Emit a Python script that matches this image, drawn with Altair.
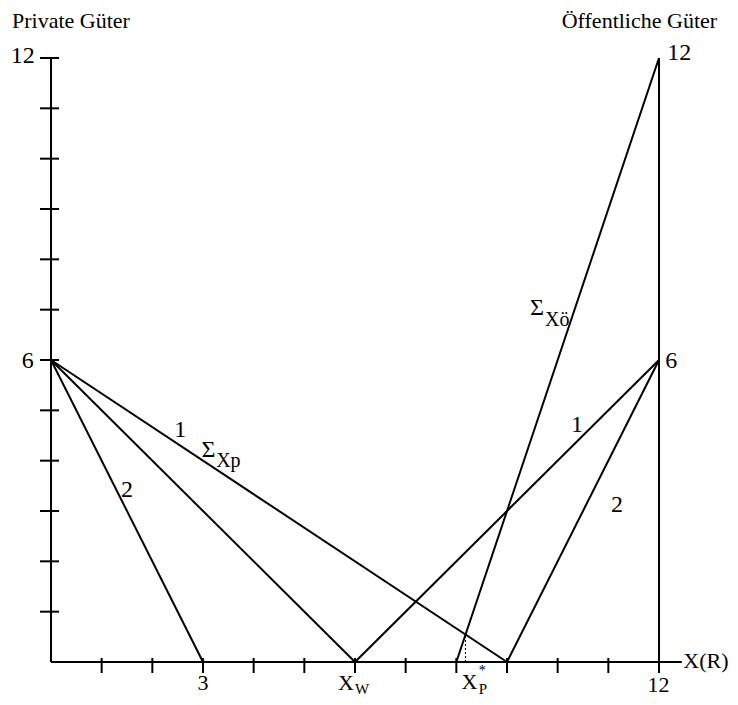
import altair as alt
import pandas as pd

# ---- data (chart units) ----
# line segments: axes, right axis, curves
seg_x1 = [0, 0, 12, 0, 0, 0, 6, 9, 8]
seg_y1 = [0, 0, 0, 6, 6, 6, 0, 0, 0]
seg_x2 = [0, 12.45, 12, 3, 6, 9, 12, 12, 12]
seg_y2 = [12, 0, 12, 0, 0, 0, 6, 6, 12]

# equilibrium point X_P* (intersection of the two sums)
eq_x = [8.18]
eq_y = [0.545]

y_ticks = [1, 2, 3, 4, 5, 6, 7, 8, 9, 10, 11, 12]
x_ticks = [1, 2, 3, 4, 5, 6, 7, 8, 9, 10, 11, 12]

# labels beside the plot (numbers, line names)
lab_text = ["12", "6", "12", "6", "2", "1", "1", "2", "Σ", "Σ"]
lab_x = [-0.56, -0.46, 12.40, 12.24, 1.50, 2.55, 10.38, 11.17, 3.11, 9.59]
lab_y = [12.04, 5.99, 12.09, 5.99, 3.42, 4.61, 4.70, 3.12, 4.21, 7.04]

# labels under the x axis
bot_text = ["3", "12", "X", "X"]
bot_x = [3.0, 11.99, 5.82, 8.26]
bot_y = [-0.42, -0.46, -0.42, -0.40]

# small subscripts (left aligned)
sub_text = ["W", "P"]
sub_x = [6.0, 8.44]
sub_y = [-0.53, -0.54]

# superscript star of X_P*
sup_text = ["*"]
sup_x = [8.44]
sup_y = [-0.17]

sum_sub_text = ["Xp", "Xö"]
sum_sub_x = [3.26, 9.75]
sum_sub_y = [3.99, 6.80]

# titles
title_text = ["Private Güter", "Öffentliche Güter", "X(R)"]
title_x = [-0.77, 10.08, 12.48]
title_y = [12.73, 12.73, 0.02]

FONT = "Liberation Serif, Times New Roman, Times, serif"
xs = alt.Scale(domain=[0, 12], nice=False, zero=False)
ys = alt.Scale(domain=[0, 12], nice=False, zero=False)


def text_layer(texts, xv, yv, size, align):
    df = pd.DataFrame({"t": texts, "x": xv, "y": yv})
    return alt.Chart(df).mark_text(
        font=FONT, fontSize=size, align=align, baseline="middle", color="black"
    ).encode(
        x=alt.X("x:Q", scale=xs, axis=None),
        y=alt.Y("y:Q", scale=ys, axis=None),
        text="t:N",
    )


segs = pd.DataFrame({"x1": seg_x1, "y1": seg_y1, "x2": seg_x2, "y2": seg_y2})
lines = alt.Chart(segs).mark_rule(color="black", strokeWidth=2).encode(
    x=alt.X("x1:Q", scale=xs, axis=None),
    y=alt.Y("y1:Q", scale=ys, axis=None),
    x2="x2:Q",
    y2="y2:Q",
)

eq = pd.DataFrame({"x": eq_x, "y": eq_y, "y0": [0]})
dotted = alt.Chart(eq).mark_rule(color="black", strokeWidth=1, strokeDash=[2, 2]).encode(
    x=alt.X("x:Q", scale=xs, axis=None),
    y=alt.Y("y0:Q", scale=ys, axis=None),
    y2="y:Q",
)

yt = pd.DataFrame({"x": [0] * len(y_ticks), "y": y_ticks})
yticks = alt.Chart(yt).mark_rule(color="black", strokeWidth=2, xOffset=-11, x2Offset=8).encode(
    x=alt.X("x:Q", scale=xs, axis=None),
    x2="x:Q",
    y=alt.Y("y:Q", scale=ys, axis=None),
)

xt = pd.DataFrame({"x": x_ticks, "y": [0] * len(x_ticks)})
xticks = alt.Chart(xt).mark_rule(color="black", strokeWidth=2, yOffset=-4, y2Offset=11).encode(
    x=alt.X("x:Q", scale=xs, axis=None),
    y=alt.Y("y:Q", scale=ys, axis=None),
    y2="y:Q",
)

labels = text_layer(lab_text, lab_x, lab_y, 24, "center")
bottom = text_layer(bot_text, bot_x, bot_y, 22, "center")
sublabels = text_layer(sub_text, sub_x, sub_y, 15, "left")
suplabels = text_layer(sup_text, sup_x, sup_y, 14, "left")
sumsubs = text_layer(sum_sub_text, sum_sub_x, sum_sub_y, 20, "left")
titles = text_layer(title_text, title_x, title_y, 22, "left")

chart = alt.layer(lines, dotted, yticks, xticks, labels, bottom, sublabels, suplabels, sumsubs, titles).properties(
    width=608,
    height=604,
    autosize=alt.AutoSizeParams(type="none"),
    padding={"left": 43, "top": 50, "right": 70, "bottom": 35},
    background="white",
).configure_view(stroke=None)

chart.save("out.html", embed_options={"renderer": "svg", "actions": False})
